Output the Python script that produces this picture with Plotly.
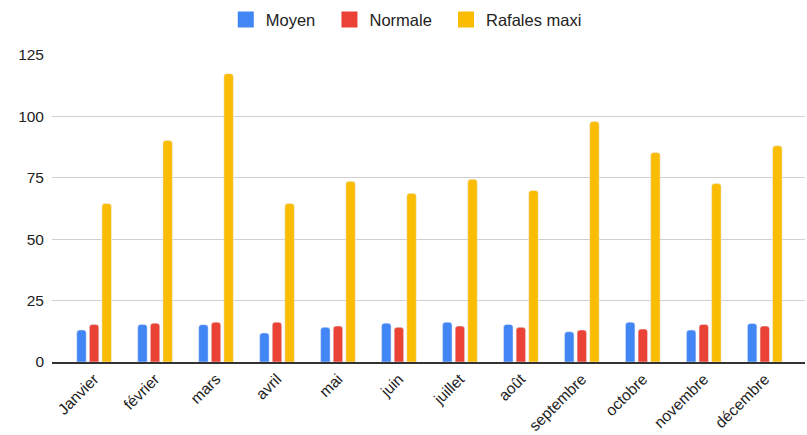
import plotly.graph_objects as go

mois = ["Janvier", "février", "mars", "avril", "mai", "juin", "juillet",
        "août", "septembre", "octobre", "novembre", "décembre"]
moyen = [13.0, 15.3, 15.2, 11.8, 14.1, 15.8, 16.2, 15.3, 12.3, 16.2, 13.0, 15.7]
normale = [15.3, 15.8, 16.2, 16.2, 14.6, 14.1, 14.6, 14.1, 13.0, 13.4, 15.3, 14.6]
rafales = [64.5, 90.1, 117.3, 64.5, 73.5, 68.6, 74.3, 69.8, 97.8, 85.2, 72.6, 88.0]
y_ticks = [0, 25, 50, 75, 100, 125]

series = [("Moyen", moyen, "#4285F4"),
          ("Normale", normale, "#EA4335"),
          ("Rafales maxi", rafales, "#FBBC04")]

fig = go.Figure()
for name, vals, col in series:
    fig.add_trace(go.Bar(name=name, x=mois, y=vals, marker_color=col,
                         legendgroup=name, showlegend=False))
for name, vals, col in series:
    # non-breaking spaces only widen the spacing between legend entries
    fig.add_trace(go.Scatter(name=name + "\u00a0\u00a0", x=[None], y=[None],
                             mode="markers",
                             marker=dict(symbol="square", size=16, color=col),
                             legendgroup=name, showlegend=True))

font_family = "Arial, 'Liberation Sans', sans-serif"
fig.update_layout(
    width=807, height=435,
    margin=dict(l=52, r=2, t=54, b=73),
    paper_bgcolor="white", plot_bgcolor="white",
    font=dict(family=font_family, size=16, color="#222222"),
    barmode="group", bargap=0.38, bargroupgap=0.25, barcornerradius=3,
    showlegend=True,
    legend=dict(orientation="h", x=0.509, xanchor="center", xref="container",
                y=0.995, yanchor="top", yref="container",
                font=dict(size=16.5, color="#222222"), itemwidth=30,
                bgcolor="rgba(0,0,0,0)"),
)
fig.update_xaxes(type="category", range=[-0.69, 11.66], tickangle=-45,
                 showline=True, linecolor="#333333", linewidth=2,
                 showgrid=False, ticks="", automargin=False,
                 tickfont=dict(size=15.5))
fig.update_yaxes(range=[0, 125.3], tickvals=y_ticks, showgrid=True,
                 gridcolor="#d0d0d0", gridwidth=1, zeroline=False,
                 ticklabelstandoff=7, ticks="", automargin=False,
                 tickfont=dict(size=15.5))

fig.write_html("out.html", config={"displayModeBar": False},
               post_script="document.body.style.margin='0';")
